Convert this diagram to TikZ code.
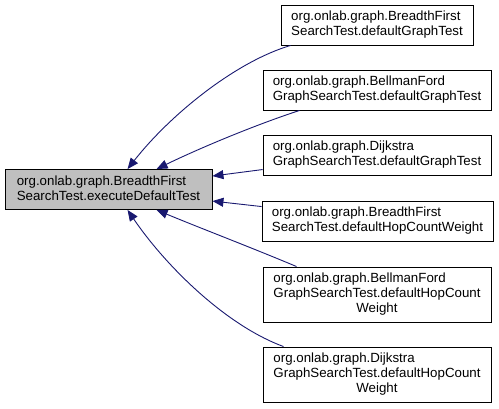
\documentclass[tikz,border=0pt]{standalone}
\usepackage{fontspec}
\setmainfont{Liberation Sans}
\usetikzlibrary{arrows.meta}
\definecolor{edgeblue}{HTML}{191970}
\definecolor{mainfill}{HTML}{BFBFBF}
\tikzset{
	fn/.style={draw=black, line width=0.9pt, inner sep=0pt, minimum height=40pt, font=\fontsize{13.3}{15}\selectfont},
	dep/.style={edgeblue, line width=0.9pt, -{Triangle[length=11pt,width=9pt]}}
}
\newcommand{\twoline}[2]{\begin{tabular}{@{}l@{}}#1\\#2\end{tabular}}
\newcommand{\threeline}[3]{\begin{tabular}{@{}l@{}}#1\\#2\\\multicolumn{1}{@{}c@{}}{#3}\end{tabular}}

\begin{document}
\begin{tikzpicture}[x=1pt, y=-1pt]
				\useasboundingbox (0,0) rectangle (499,408);

				% Test being called
				\node[fn, fill=mainfill, minimum width=207pt] (main) at (108.5,189.5) {\twoline{org.onlab.graph.BreadthFirst}{SearchTest.executeDefaultTest}};

				% Callers
				\node[fn, minimum width=192pt] (bfsGraph) at (377,25) {\twoline{org.onlab.graph.BreadthFirst}{SearchTest.defaultGraphTest}};
				\node[fn, minimum width=228pt] (bellmanGraph) at (377,90) {\twoline{org.onlab.graph.BellmanFord}{GraphSearchTest.defaultGraphTest}};
				\node[fn, minimum width=228pt] (dijkstraGraph) at (377,155) {\twoline{org.onlab.graph.Dijkstra}{GraphSearchTest.defaultGraphTest}};
				\node[fn, minimum width=231pt] (bfsHop) at (377.5,221) {\twoline{org.onlab.graph.BreadthFirst}{SearchTest.defaultHopCountWeight}};
				\node[fn, minimum width=228pt, minimum height=55pt] (bellmanHop) at (377,294.5) {\threeline{org.onlab.graph.BellmanFord}{GraphSearchTest.defaultHopCount}{Weight}};
				\node[fn, minimum width=228pt, minimum height=55pt] (dijkstraHop) at (377,374.5) {\threeline{org.onlab.graph.Dijkstra}{GraphSearchTest.defaultHopCount}{Weight}};

				% Edges
				\draw[dep] ([xshift=10pt]bfsGraph.south west) .. controls (235,62) and (170,115) .. ([xshift=123pt]main.north west);
				\draw[dep] ([xshift=37pt]bellmanGraph.south west) .. controls (255,125) and (200,148) .. ([xshift=152pt]main.north west);
				\draw[dep] ([yshift=-35pt]dijkstraGraph.north west) -- ([yshift=-7pt]main.north east);
				\draw[dep] ([yshift=-6pt]bfsHop.north west) -- ([yshift=-32pt]main.north east);
				\draw[dep] ([xshift=34pt]bellmanHop.north west) .. controls (250,247) and (200,228) .. ([xshift=152pt]main.south west);
				\draw[dep] ([xshift=21pt]dijkstraHop.north west) .. controls (225,325) and (165,265) .. ([xshift=123pt]main.south west);
			\end{tikzpicture}
\end{document}
